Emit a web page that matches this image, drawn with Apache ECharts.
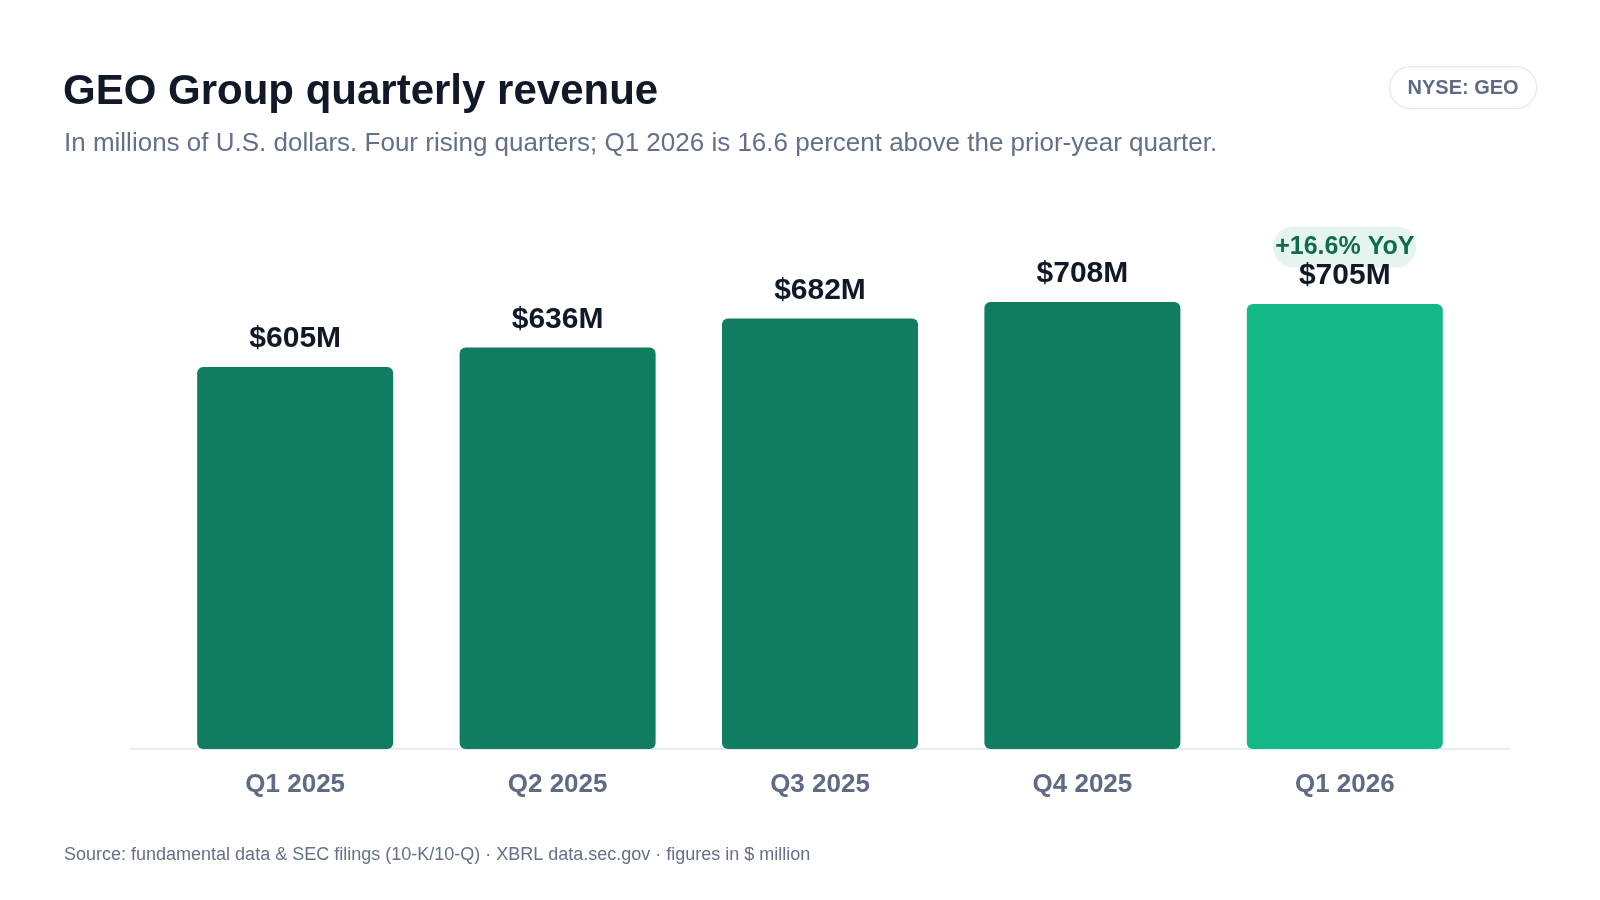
<!DOCTYPE html>
<html>
<head>
<meta charset="utf-8">
<script src="https://cdn.jsdelivr.net/npm/echarts@6/dist/echarts.min.js"></script>
<style>
html,body{margin:0;padding:0;background:#ffffff;}
#chart{width:1600px;height:900px;}
</style>
</head>
<body>
<div id="chart"></div>
<script>
const categories = ['Q1 2025', 'Q2 2025', 'Q3 2025', 'Q4 2025', 'Q1 2026'];
const revenue = [605, 636, 682, 708, 705];
const highlightIndex = 4;
const yoyLabel = '+16.6% YoY';
const titleText = 'GEO Group quarterly revenue';
const subtitleText = 'In millions of U.S. dollars. Four rising quarters; Q1 2026 is 16.6 percent above the prior-year quarter.';
const footerText = 'Source: fundamental data & SEC filings (10-K/10-Q) \u00b7 XBRL data.sec.gov \u00b7 figures in $ million';
const tickerText = 'NYSE: GEO';

const FONT = '"Liberation Sans", Arial, Helvetica, sans-serif';
const DARK = '#107c60';
const LIGHT = '#14b886';

const chart = echarts.init(document.getElementById('chart'), null, {renderer: 'canvas'});

const barData = revenue.map((v, i) => ({
  value: v,
  itemStyle: {color: i === highlightIndex ? LIGHT : DARK}
}));

chart.setOption({
  backgroundColor: '#ffffff',
  animation: false,
  textStyle: {fontFamily: FONT},
  title: [
    {text: titleText, left: 63, top: 71, padding: 0, textStyle: {fontFamily: FONT, fontSize: 42, fontWeight: 'bold', color: '#111827'}},
    {text: subtitleText, left: 64, top: 131, padding: 0, textStyle: {fontFamily: FONT, fontSize: 26, fontWeight: 'normal', color: '#64708a'}},
    {text: footerText, left: 64, top: 846, padding: 0, textStyle: {fontFamily: FONT, fontSize: 18, fontWeight: 'normal', color: '#64708a'}}
  ],
  graphic: [
    {
      type: 'group', left: 1389, top: 66,
      children: [
        {type: 'rect', shape: {x: 0, y: 0, width: 147, height: 42, r: 21}, style: {fill: '#ffffff', stroke: '#e3e6eb', lineWidth: 1.2}},
        {type: 'text', x: 73.5, y: 22, style: {text: tickerText, fill: '#5f6b85', font: 'bold 20px ' + FONT, textAlign: 'center', textVerticalAlign: 'middle', align: 'center', verticalAlign: 'middle'}}
      ]
    }
  ],
  grid: [
    {left: 164, right: 124, top: 244, bottom: 151, containLabel: false},
    {left: 130, right: 90, top: 244, bottom: 151, containLabel: false}
  ],
  xAxis: [
    {
      type: 'category', gridIndex: 0, data: categories,
      axisLine: {show: false}, axisTick: {show: false},
      axisLabel: {margin: 23, fontFamily: FONT, fontSize: 26, fontWeight: 'bold', color: '#5f6b85'}
    },
    {
      type: 'category', gridIndex: 1, data: categories,
      axisLine: {show: true, lineStyle: {color: '#e3e7ec', width: 1.5}},
      axisTick: {show: false}, axisLabel: {show: false}
    }
  ],
  yAxis: [
    {type: 'value', gridIndex: 0, min: 0, max: 800, show: false, splitLine: {show: false}},
    {type: 'value', gridIndex: 1, min: 0, max: 800, show: false, splitLine: {show: false}}
  ],
  series: [
    {
      type: 'bar', xAxisIndex: 0, yAxisIndex: 0,
      data: barData,
      barWidth: 196,
      itemStyle: {borderRadius: 6},
      z: 3,
      label: {
        show: true, position: 'top', distance: 12,
        formatter: function (p) {
          const v = '{val|$' + p.value + 'M}';
          return p.dataIndex === highlightIndex ? '{yoy|' + yoyLabel + '}\n' + v : v;
        },
        rich: {
          val: {fontFamily: FONT, fontSize: 30, fontWeight: 'bold', color: '#111827', lineHeight: 32},
          yoy: {fontFamily: FONT, fontSize: 25, fontWeight: 'bold', color: '#0d6b4e', backgroundColor: '#e6f4ee', borderRadius: 20, padding: [8, 2], lineHeight: 26}
        }
      }
    }
  ]
});
</script>
</body>
</html>
